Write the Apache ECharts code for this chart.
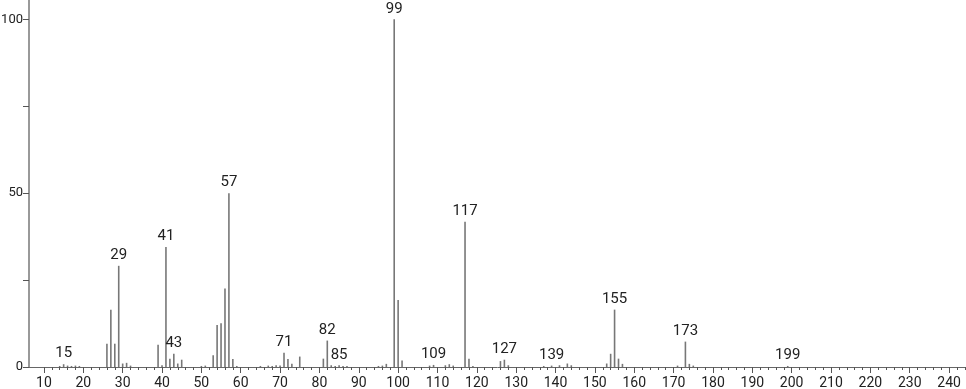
<!DOCTYPE html>
<html>
<head>
<meta charset="utf-8">
<script src="https://cdn.jsdelivr.net/npm/echarts@6/dist/echarts.min.js"></script>
<style>html,body{margin:0;padding:0;background:#fff}#c{width:966px;height:389px}</style>
</head>
<body>
<div id="c"></div>
<script>
const masses = [14,15,16,17,18,19,26,27,28,29,30,31,32,39,40,41,42,43,44,45,50,51,53,54,55,56,57,58,59,65,67,68,69,70,71,72,73,75,81,82,83,84,85,86,87,95,96,97,99,100,101,108,109,112,113,114,117,118,119,126,127,128,137,139,141,143,144,153,154,155,156,157,171,173,174,175,199];
const intensities = [0.3,0.8,0.4,0.3,0.4,0.3,6.7,16.5,6.7,29.1,1.0,1.2,0.4,6.4,0.5,34.5,2.4,3.8,1.0,2.1,0.3,0.4,3.4,12.1,12.6,22.6,50.0,2.3,0.3,0.3,0.4,0.3,0.5,0.4,4.1,2.3,0.9,3.0,2.4,7.6,0.5,0.3,0.5,0.3,0.3,0.3,0.4,0.9,100,19.3,1.9,0.4,0.6,0.5,0.8,0.4,41.8,2.4,0.3,1.7,2.1,0.5,0.3,0.4,0.5,1.0,0.5,1.0,3.8,16.5,2.4,0.9,0.4,7.3,0.9,0.4,0.3];
const labeledMasses = [15,29,41,43,57,71,82,85,99,109,117,127,139,155,173,199];
const xMajorTicks = [10,20,30,40,50,60,70,80,90,100,110,120,130,140,150,160,170,180,190,200,210,220,230,240];
const xMinorTicks = [];
for (let v = 10; v <= 244; v += 2) xMinorTicks.push(v);
const yTicks = [0,25,50,75,100];
const yLabels = [0,50,100];

const FONT = 'Roboto';
const data = masses.map((m, i) => {
  const item = { value: [m, intensities[i]] };
  if (labeledMasses.includes(m)) {
    item.label = { show: true, position: 'top', distance: 3, formatter: String(m), color: '#222', fontSize: 15, fontFamily: FONT };
  }
  return item;
});

const chart = echarts.init(document.getElementById('c'), null, { renderer: 'canvas' });
chart.setOption({
  animation: false,
  backgroundColor: '#fff',
  grid: { left: 29, right: 0, top: 0, bottom: 22, containLabel: false, outerBoundsMode: 'none' },
  xAxis: [
    {
      type: 'value', min: 6.2, max: 244.3, position: 'bottom',
      axisLine: { show: true, lineStyle: { color: '#666', width: 1 } },
      axisTick: { show: true, length: 6, customValues: xMajorTicks, lineStyle: { color: '#555', width: 1 } },
      axisLabel: { show: true, customValues: xMajorTicks, color: '#222', fontSize: 14, fontFamily: FONT, margin: 9 },
      splitLine: { show: false }
    },
    {
      type: 'value', min: 6.2, max: 244.3, position: 'bottom', gridIndex: 0,
      axisLine: { show: false },
      axisTick: { show: true, length: 3, customValues: xMinorTicks, lineStyle: { color: '#555', width: 1 } },
      axisLabel: { show: false },
      splitLine: { show: false }
    }
  ],
  yAxis: {
    type: 'value', min: 0, max: 105.55,
    axisLine: { show: true, lineStyle: { color: '#999', width: 2 } },
    axisTick: { show: true, length: 6, customValues: yTicks, lineStyle: { color: '#555', width: 1 } },
    axisLabel: { show: true, customValues: yLabels, color: '#222', fontSize: 13, fontFamily: FONT, margin: 6 },
    splitLine: { show: false }
  },
  series: [{
    type: 'bar', xAxisIndex: 0, yAxisIndex: 0,
    barWidth: 1.6,
    itemStyle: { color: '#777' },
    data: data
  }]
});
</script>
</body>
</html>
